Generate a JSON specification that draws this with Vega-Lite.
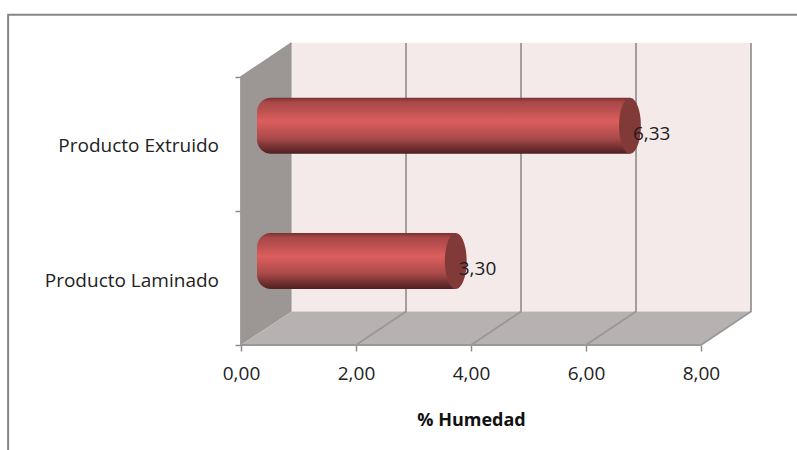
{
  "$schema": "https://vega.github.io/schema/vega-lite/v6.json",
  "width": 510,
  "height": 302,
  "autosize": "none",
  "padding": {"left": 241, "top": 43, "right": 46, "bottom": 105},
  "background": "white",
  "config": {
    "view": {"stroke": null},
    "font": "Open Sans",
    "locale": {"number": {"decimal": ",", "thousands": ".", "grouping": [3], "currency": ["", ""]}}
  },
  "datasets": {
    "humedad": [
      {"producto": "Producto Extruido", "humedad": 6.33, "fila": 1.51},
      {"producto": "Producto Laminado", "humedad": 3.30, "fila": 0.5}
    ],
    "pared": [
      {"x": 0, "y": 0, "y2": 2},
      {"x": 0.88, "y": 0.25, "y2": 2.254}
    ],
    "suelo": [
      {"x": 0, "y": 0, "y2": 0},
      {"x": 0.88, "y": 0, "y2": 0.25},
      {"x": 8, "y": 0, "y2": 0.25},
      {"x": 8.87, "y": 0.25, "y2": 0.25}
    ],
    "fondo": [
      {"x": 0.88, "x2": 8.87, "y": 0.25, "y2": 2.254}
    ],
    "rejilla": [
      {"linea": "2", "orden": 1, "x": 2, "y": 0},
      {"linea": "2", "orden": 2, "x": 2.87, "y": 0.25},
      {"linea": "2", "orden": 3, "x": 2.87, "y": 2.254},
      {"linea": "4", "orden": 1, "x": 4, "y": 0},
      {"linea": "4", "orden": 2, "x": 4.87, "y": 0.25},
      {"linea": "4", "orden": 3, "x": 4.87, "y": 2.254},
      {"linea": "6", "orden": 1, "x": 6, "y": 0},
      {"linea": "6", "orden": 2, "x": 6.87, "y": 0.25},
      {"linea": "6", "orden": 3, "x": 6.87, "y": 2.254},
      {"linea": "8", "orden": 1, "x": 8, "y": 0},
      {"linea": "8", "orden": 2, "x": 8.87, "y": 0.25},
      {"linea": "8", "orden": 3, "x": 8.87, "y": 2.254},
      {"linea": "base", "orden": 1, "x": 0, "y": 0},
      {"linea": "base", "orden": 2, "x": 8, "y": 0},
      {"linea": "eje", "orden": 1, "x": 0, "y": 0},
      {"linea": "eje", "orden": 2, "x": 0, "y": 2},
      {"linea": "eje", "orden": 3, "x": 0.88, "y": 2.254}
    ],
    "marco": [
      {"orden": 1, "x": -4.05, "y": -0.8},
      {"orden": 2, "x": -4.05, "y": 2.465},
      {"orden": 3, "x": 9.7, "y": 2.465}
    ]
  },
  "layer": [
    {
      "data": {"name": "marco"},
      "mark": {"type": "line", "color": "#868686", "strokeWidth": 2, "clip": false},
      "encoding": {
        "x": {"field": "x", "type": "quantitative", "scale": {"domain": [0, 8.87], "nice": false, "zero": false, "padding": 0},
          "axis": {"values": [0, 2, 4, 6, 8], "format": ".2f", "domain": false, "grid": false, "ticks": true, "tickSize": 6, "tickColor": "#8c8c8c", "tickWidth": 1.5,
            "labelFontSize": 19, "labelColor": "#222222", "labelPadding": 13, "labelFlush": false,
            "title": "% Humedad", "titleFontSize": 18, "titleFontWeight": "bold", "titleColor": "#111111", "titleX": 230, "titleY": 66, "titleAnchor": "middle", "titleAlign": "center"}},
        "y": {"field": "y", "type": "quantitative", "scale": {"domain": [0, 2.254], "nice": false, "zero": false, "padding": 0},
          "axis": {"values": [0, 1, 2], "labels": false, "domain": false, "grid": false, "tickSize": 6, "tickColor": "#8c8c8c", "tickWidth": 1.5, "title": null}},
        "order": {"field": "orden", "type": "ordinal"}
      }
    },
    {
      "data": {"name": "fondo"},
      "mark": {"type": "rect", "color": "#f5eaea"},
      "encoding": {
        "x": {"field": "x", "type": "quantitative"}, "x2": {"field": "x2"},
        "y": {"field": "y", "type": "quantitative"}, "y2": {"field": "y2"}
      }
    },
    {
      "data": {"name": "pared"},
      "mark": {"type": "area", "color": "#9c9795", "opacity": 1},
      "encoding": {
        "x": {"field": "x", "type": "quantitative"},
        "y": {"field": "y", "type": "quantitative"}, "y2": {"field": "y2"}
      }
    },
    {
      "data": {"name": "suelo"},
      "mark": {"type": "area", "color": "#b8b1b1", "opacity": 1},
      "encoding": {
        "x": {"field": "x", "type": "quantitative"},
        "y": {"field": "y", "type": "quantitative"}, "y2": {"field": "y2"}
      }
    },
    {
      "data": {"name": "rejilla"},
      "mark": {"type": "line", "color": "#9a9797", "strokeWidth": 1.8},
      "encoding": {
        "x": {"field": "x", "type": "quantitative"},
        "y": {"field": "y", "type": "quantitative"},
        "detail": {"field": "linea"},
        "order": {"field": "orden", "type": "ordinal"}
      }
    },
    {
      "data": {"name": "humedad"},
      "mark": {
        "type": "bar", "orient": "horizontal", "size": 56, "xOffset": 25, "x2Offset": 16, "yOffset": -17,
        "cornerRadiusTopLeft": 14, "cornerRadiusBottomLeft": 14,
        "color": {"gradient": "linear", "x1": 0, "y1": 0, "x2": 0, "y2": 1, "stops": [
          {"offset": 0, "color": "#7a3031"},
          {"offset": 0.08, "color": "#a84848"},
          {"offset": 0.22, "color": "#bb5050"},
          {"offset": 0.42, "color": "#dc5e5e"},
          {"offset": 0.72, "color": "#ab4a4a"},
          {"offset": 0.9, "color": "#6f2e2e"},
          {"offset": 1, "color": "#4e2020"}
        ]}
      },
      "encoding": {
        "x": {"field": "humedad", "type": "quantitative"},
        "x2": {"datum": 0},
        "y": {"field": "fila", "type": "quantitative"}
      }
    },
    {
      "data": {"name": "humedad"},
      "mark": {
        "type": "point", "filled": true, "opacity": 1, "color": "#823a38", "size": 3136, "xOffset": 25, "yOffset": -17,
        "shape": "M0,-1A0.39,1 0 1,1 0,1A0.39,1 0 1,1 0,-1Z"
      },
      "encoding": {
        "x": {"field": "humedad", "type": "quantitative"},
        "y": {"field": "fila", "type": "quantitative"}
      }
    },
    {
      "data": {"name": "humedad"},
      "mark": {"type": "text", "align": "left", "baseline": "middle", "fontSize": 19, "color": "#1c1c1c", "dx": 28, "dy": -9},
      "encoding": {
        "x": {"field": "humedad", "type": "quantitative"},
        "y": {"field": "fila", "type": "quantitative"},
        "text": {"field": "humedad", "type": "quantitative", "format": ".2f"}
      }
    },
    {
      "data": {"name": "humedad"},
      "mark": {"type": "text", "align": "right", "baseline": "middle", "fontSize": 19, "color": "#222222", "dx": -22, "dy": 3},
      "encoding": {
        "x": {"datum": 0, "type": "quantitative"},
        "y": {"field": "fila", "type": "quantitative"},
        "text": {"field": "producto"}
      }
    }
  ]
}
